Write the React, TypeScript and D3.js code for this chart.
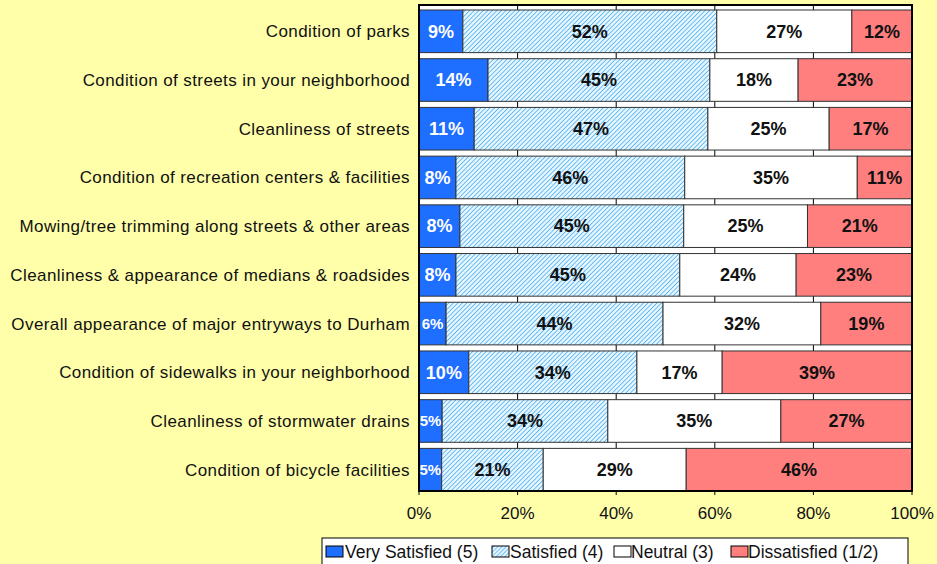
import React from "react";
import * as d3 from "d3";

const categories = [
  "Condition of parks",
  "Condition of streets in your neighborhood",
  "Cleanliness of streets",
  "Condition of recreation centers & facilities",
  "Mowing/tree trimming along streets & other areas",
  "Cleanliness & appearance of medians & roadsides",
  "Overall appearance of major entryways to Durham",
  "Condition of sidewalks in your neighborhood",
  "Cleanliness of stormwater drains",
  "Condition of bicycle facilities",
];
const verySatisfied = [8.9, 14.0, 11.2, 7.5, 8.3, 7.5, 5.5, 10.1, 4.7, 4.6];
const satisfied = [51.5, 45.0, 47.4, 46.4, 45.4, 45.4, 44.0, 34.1, 33.6, 20.6];
const neutral = [27.4, 17.9, 24.6, 35.0, 25.1, 23.6, 32.0, 17.3, 35.1, 29.0];
const dissatisfied = [12.2, 23.1, 16.8, 11.0, 21.1, 23.4, 18.6, 38.6, 26.6, 45.8];
const seriesNames = ["Very Satisfied (5)", "Satisfied (4)", "Neutral (3)", "Dissatisfied (1/2)"];
const tickValues = [0, 20, 40, 60, 80, 100];

const W = 937;
const H = 564;
const FONT = "'Liberation Sans', Arial, Helvetica, sans-serif";
const fills = ["#1E6EFF", "url(#hatch)", "#FFFFFF", "#FF7F7F"];
const textColors = ["#FFFFFF", "#111111", "#111111", "#111111"];

export default function App() {
  const x = d3.scaleLinear().domain([0, 100]).range([419, 912]);
  const y = d3.scaleBand<string>().domain(categories).range([10, 491]).paddingInner(0.125).paddingOuter(0);
  const series = [verySatisfied, satisfied, neutral, dissatisfied];
  const rows = categories.map((c, i) => {
    let acc = 0;
    return series.map((s, k) => {
      const v = s[i];
      const x0 = acc;
      acc += v;
      const x1 = k === series.length - 1 ? 100 : acc;
      return { c, k, v, x0, x1 };
    });
  });
  const legendItems = [
    { sx: 326, tx: 345 },
    { sx: 492, tx: 510 },
    { sx: 614, tx: 631 },
    { sx: 731, tx: 748 },
  ];
  return (
    <div style={{ position: "absolute", left: 0, top: 0 }}>
      <svg width={W} height={H} style={{ display: "block", fontFamily: FONT }}>
        <defs>
          <pattern id="hatch" patternUnits="userSpaceOnUse" width="3.2" height="3.2" patternTransform="rotate(45)">
            <rect width="3.2" height="3.2" fill="#E4F5FF" />
            <line x1="0" y1="0" x2="0" y2="3.2" stroke="#3FA9EE" strokeWidth="1.4" />
          </pattern>
          <pattern id="hatchLegend" patternUnits="userSpaceOnUse" width="3" height="3" patternTransform="rotate(45)">
            <rect width="3" height="3" fill="#E4F5FF" />
            <line x1="0" y1="0" x2="0" y2="3" stroke="#3FA9EE" strokeWidth="1.3" />
          </pattern>
        </defs>
        <rect x={0} y={0} width={W} height={H} fill="#FFFFAA" />
        <rect x={x(0)} y={5} width={x(100) - x(0)} height={491 - 5} fill="#FFFFFF" />
        {tickValues.slice(1, -1).map((t) => (
          <line key={t} x1={x(t)} x2={x(t)} y1={5} y2={491} stroke="#000" strokeWidth={1} />
        ))}
        {rows.map((segs, i) =>
          segs.map((s) => (
            <g key={`${i}-${s.k}`}>
              <rect
                x={x(s.x0)}
                y={y(s.c)!}
                width={x(s.x1) - x(s.x0)}
                height={y.bandwidth()}
                fill={fills[s.k]}
                stroke="#333"
                strokeWidth={1}
              />
              <text
                x={(x(s.x0) + x(s.x1)) / 2}
                y={y(s.c)! + y.bandwidth() / 2}
                dy="0.35em"
                textAnchor="middle"
                fontSize={s.v < 7 ? 15 : 18}
                fontWeight="bold"
                fill={textColors[s.k]}
              >
                {Math.round(s.v)}%
              </text>
            </g>
          ))
        )}
        {categories.map((c) => (
          <text
            key={c}
            x={410}
            y={y(c)! + y.bandwidth() / 2}
            dy="0.35em"
            textAnchor="end"
            fontSize={17}
            letterSpacing={0.4}
            fill="#111"
          >
            {c}
          </text>
        ))}
        <rect x={x(0)} y={5} width={x(100) - x(0)} height={491 - 5} fill="none" stroke="#000" strokeWidth={2} />
        {tickValues.map((t) => (
          <g key={t}>
            <line x1={x(t)} x2={x(t)} y1={491} y2={495} stroke="#000" strokeWidth={1} />
            <text x={x(t)} y={513} dy="0.35em" textAnchor="middle" fontSize={17} fill="#111">
              {t}%
            </text>
          </g>
        ))}
        <rect x={322} y={538} width={586} height={30} fill="#FFFFFF" stroke="#000" strokeWidth={1} />
        {seriesNames.map((n, k) => (
          <g key={n}>
            <rect
              x={legendItems[k].sx}
              y={546}
              width={17}
              height={11}
              fill={k === 1 ? "url(#hatchLegend)" : fills[k]}
              stroke="#000"
              strokeWidth={1}
            />
            <text x={legendItems[k].tx} y={551.5} dy="0.35em" fontSize={17.5} fill="#111">
              {n}
            </text>
          </g>
        ))}
      </svg>
    </div>
  );
}
